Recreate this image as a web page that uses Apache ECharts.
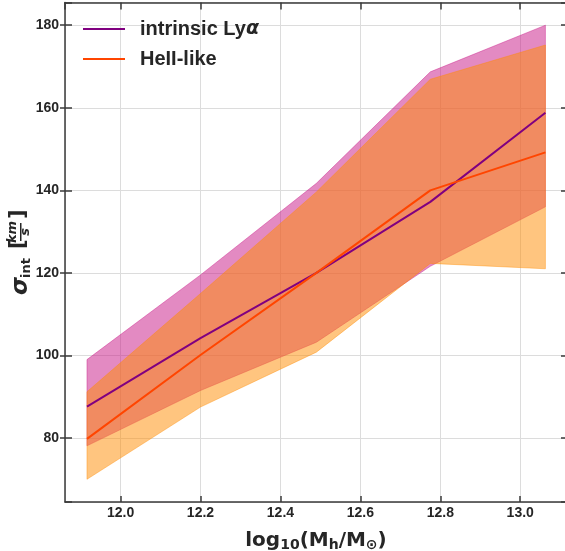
<!DOCTYPE html>
<html><head><meta charset="utf-8">
<script src="https://cdn.jsdelivr.net/npm/echarts@6/dist/echarts.min.js"></script>
<style>html,body{margin:0;padding:0;background:#fff}#c{width:565px;height:551px}</style>
</head><body><div id="c"></div>
<script>
// ---- data ----
const xMass    = [11.916, 12.2, 12.49, 12.775, 13.063];
const lyaMid   = [87.6, 104.2, 120.0, 137.2, 158.8];
const lyaLow   = [78.1, 91.5, 103.2, 121.6, 136.0];
const lyaHigh  = [99.0, 119.5, 141.7, 168.7, 180.0];
const heiiMid  = [79.8, 100.1, 120.0, 140.0, 149.2];
const heiiLow  = [70.0, 87.5, 100.8, 122.3, 121.0];
const heiiHigh = [91.2, 115.0, 139.6, 166.9, 175.2];
const seriesNames = ['intrinsic Lyα', 'HeII-like'];

const X_MIN = 11.861, X_MAX = 13.117, Y_MIN = 64.5, Y_MAX = 185.5;
const DARK = '#262626', AXIS = '#3a3a3a', GRID = '#dcdcdc';
const TICKFONT = '"Liberation Sans", Arial, sans-serif';

function band(name, lo, hi, color) {
  return {
    type: 'custom', name: name, silent: true, z: 1,
    xAxisIndex: 0, yAxisIndex: 0,
    data: xMass.map((x, i) => [x, lo[i], hi[i]]),
    encode: { x: 0, y: [1, 2] },
    renderItem: function (params, api) {
      if (params.dataIndex !== 0) return null;
      const pts = [];
      for (let i = 0; i < xMass.length; i++) pts.push(api.coord([xMass[i], hi[i]]));
      for (let i = xMass.length - 1; i >= 0; i--) pts.push(api.coord([xMass[i], lo[i]]));
      return { type: 'polygon', shape: { points: pts },
               style: { fill: color, stroke: color, lineWidth: 0.8 } };
    }
  };
}
function line(name, vals, color) {
  return {
    type: 'line', name: name, z: 3, symbol: 'none', showSymbol: false,
    xAxisIndex: 0, yAxisIndex: 0,
    data: xMass.map((x, i) => [x, vals[i]]),
    color: color, lineStyle: { color: color, width: 2 }, animation: false
  };
}

const chart = echarts.init(document.getElementById('c'), null, { renderer: 'canvas' });
chart.setOption({
  animation: false,
  backgroundColor: '#ffffff',
  grid: { left: 65, right: -2, top: 2.5, bottom: 49, containLabel: false, outerBoundsMode: 'none' },
  legend: {
    data: seriesNames, orient: 'vertical', left: 83, top: 19, itemGap: 10, padding: 0,
    icon: 'rect', itemWidth: 42, itemHeight: 2,
    formatter: n => n === seriesNames[0] ? 'intrinsic Ly{a|α}' : n,
    textStyle: { fontFamily: TICKFONT, fontWeight: 'bold', fontSize: 20, color: DARK,
      padding: [0, 0, 0, 10],
      rich: { a: { fontFamily: '"DejaVu Sans"', fontStyle: 'italic', fontWeight: 'bold', fontSize: 19, color: DARK } } }
  },
  xAxis: [{
    type: 'value', min: X_MIN, max: X_MAX, position: 'bottom', splitNumber: 7,
    axisLine: { show: true, lineStyle: { color: AXIS, width: 1.5 } },
    axisTick: { show: true, inside: true, length: 6, lineStyle: { color: AXIS, width: 1.5 } },
    axisLabel: { showMinLabel: false, showMaxLabel: false, margin: 4,
      fontFamily: TICKFONT, fontWeight: 'bold', fontSize: 14, color: DARK,
      formatter: v => v.toFixed(1) },
    splitLine: { show: true, lineStyle: { color: GRID, width: 1 } },
    name: 'log{s|10}(M{s|h}/M{s|⊙})', nameLocation: 'middle', nameGap: 28,
    nameTextStyle: { fontFamily: '"DejaVu Sans"', fontWeight: 'bold', fontSize: 20, color: DARK,
      rich: { s: { fontFamily: '"DejaVu Sans"', fontWeight: 'bold', fontSize: 14, color: DARK, padding: [8, 0, 0, 0] } } }
  }, {
    type: 'value', min: X_MIN, max: X_MAX, position: 'top', splitNumber: 7,
    axisLine: { show: true, lineStyle: { color: AXIS, width: 1.5 } },
    axisTick: { show: true, inside: true, length: 7, lineStyle: { color: AXIS, width: 1.5 } },
    axisLabel: { show: false }, splitLine: { show: false }
  }],
  yAxis: [{
    type: 'value', min: Y_MIN, max: Y_MAX, position: 'left',
    axisLine: { show: true, lineStyle: { color: AXIS, width: 1.5 } },
    axisTick: { show: true, inside: false, length: 5, lineStyle: { color: AXIS, width: 1.5 } },
    axisLabel: { showMinLabel: false, showMaxLabel: false, margin: 6,
      fontFamily: TICKFONT, fontWeight: 'bold', fontSize: 14, color: DARK },
    splitLine: { show: true, lineStyle: { color: GRID, width: 1 } }
  }, {
    type: 'value', min: Y_MIN, max: Y_MAX, position: 'right',
    axisLine: { show: true, lineStyle: { color: AXIS, width: 1.5 } },
    axisTick: { show: true, inside: true, length: 6, lineStyle: { color: AXIS, width: 1.5 } },
    axisLabel: { show: false }, splitLine: { show: false }
  }, {
    type: 'value', min: Y_MIN, max: Y_MAX, position: 'left',
    axisLine: { show: false },
    axisTick: { show: true, inside: true, length: 7, lineStyle: { color: AXIS, width: 1.5 } },
    axisLabel: { show: false }, splitLine: { show: false }
  }],
  graphic: [{
    type: 'group', x: 25, y: 252, rotation: Math.PI / 2, silent: true,
    children: [
      { type: 'text', x: -43, y: -4, style: { text: 'σ', font: 'italic bold 23px "DejaVu Sans"', fill: DARK, align: 'left', verticalAlign: 'middle' } },
      { type: 'text', x: -26, y: 2, style: { text: 'int', font: 'bold 13px "DejaVu Sans"', fill: DARK, align: 'left', verticalAlign: 'middle' } },
      { type: 'text', x: 3, y: -6, style: { text: '[', font: 'bold 21px "DejaVu Sans"', fill: DARK, align: 'left', verticalAlign: 'middle' } },
      { type: 'text', x: 20, y: -12, style: { text: 'km', font: 'italic bold 13px "DejaVu Sans"', fill: DARK, align: 'center', verticalAlign: 'middle' } },
      { type: 'rect', shape: { x: 11, y: -5, width: 18, height: 1.5 }, style: { fill: DARK } },
      { type: 'text', x: 20, y: 1, style: { text: 's', font: 'italic bold 13px "DejaVu Sans"', fill: DARK, align: 'center', verticalAlign: 'middle' } },
      { type: 'text', x: 33, y: -6, style: { text: ']', font: 'bold 21px "DejaVu Sans"', fill: DARK, align: 'left', verticalAlign: 'middle' } }
    ]
  }],
  series: [
    band('Lyα band', lyaLow, lyaHigh, 'rgba(199,21,133,0.5)'),
    band('HeII band', heiiLow, heiiHigh, 'rgba(255,140,0,0.5)'),
    line(seriesNames[0], lyaMid, '#800080'),
    line(seriesNames[1], heiiMid, '#ff4500')
  ]
});
</script></body></html>
